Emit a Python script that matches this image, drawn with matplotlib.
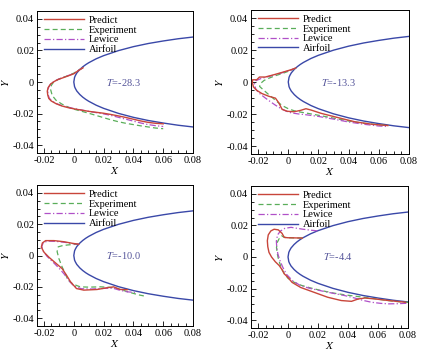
import matplotlib
matplotlib.use("Agg")
import matplotlib.pyplot as plt
from matplotlib.ticker import MultipleLocator, FuncFormatter

plt.rcParams['font.family'] = ['Liberation Serif', 'DejaVu Serif']
plt.rcParams['mathtext.fontset'] = 'stix'

# ---------------- data ----------------
airfoil_x = [0.0, 0.0005, 0.001, 0.002, 0.004, 0.006, 0.008, 0.01, 0.015, 0.02,
             0.03, 0.04, 0.05, 0.06, 0.07, 0.08]
airfoil_y = [0.0, 0.0029, 0.0040, 0.0057, 0.0079, 0.0096, 0.0110, 0.0122, 0.0147,
             0.0167, 0.0199, 0.0224, 0.0244, 0.0260, 0.0274, 0.0285]

titles = ["T=-28.3", "T=-13.3", "T=-10.0", "T=-4.4"]

# Panel 1 (T=-28.3)
p1_pred_x = [0.0062, 0.003, 0.0, -0.004, -0.0075, -0.0105, -0.013, -0.0155, -0.0172, -0.0178,
             -0.0175, -0.0168, -0.0152, -0.012, -0.008, -0.004, 0.0, 0.005, 0.010, 0.015,
             0.020, 0.025, 0.030, 0.035, 0.040, 0.045, 0.050, 0.055, 0.060]
p1_pred_y = [0.0090, 0.0072, 0.0052, 0.0038, 0.0026, 0.0016, 0.0004, -0.0012, -0.0035, -0.0058,
             -0.0082, -0.0104, -0.0120, -0.0137, -0.0152, -0.0162, -0.0170, -0.0178, -0.0186, -0.0192,
             -0.0198, -0.0206, -0.0215, -0.0225, -0.0236, -0.0247, -0.0256, -0.0262, -0.0265]
p1_exp_x = [0.006, 0.003, 0.0, -0.004, -0.008, -0.011, -0.0135, -0.015, -0.0155, -0.0145,
            -0.012, -0.008, -0.004, 0.0, 0.005, 0.010, 0.015, 0.020, 0.025, 0.030,
            0.035, 0.040, 0.045, 0.050, 0.055, 0.060]
p1_exp_y = [0.0090, 0.0074, 0.0056, 0.0040, 0.0026, 0.0014, 0.0000, -0.0020, -0.0050, -0.0085,
            -0.0115, -0.0140, -0.0158, -0.0172, -0.0185, -0.0198, -0.0212, -0.0226, -0.0240, -0.0252,
            -0.0262, -0.0270, -0.0278, -0.0285, -0.0292, -0.0296]
p1_lew_x = [0.006, 0.003, 0.0, -0.004, -0.0075, -0.0105, -0.013, -0.0155, -0.017, -0.0175,
            -0.0172, -0.0165, -0.015, -0.012, -0.008, -0.004, 0.0, 0.005, 0.010, 0.015,
            0.020, 0.025, 0.030, 0.035, 0.040, 0.045, 0.050, 0.055, 0.060]
p1_lew_y = [0.0090, 0.0073, 0.0054, 0.0040, 0.0028, 0.0017, 0.0005, -0.0012, -0.0035, -0.0058,
            -0.0080, -0.0102, -0.0118, -0.0136, -0.0150, -0.0160, -0.0168, -0.0177, -0.0186, -0.0194,
            -0.0202, -0.0212, -0.0224, -0.0236, -0.0248, -0.0260, -0.0270, -0.0277, -0.0282]

# Panel 2 (T=-13.3)
p2_pred_x = [0.0049, 0.0016, -0.0041, -0.0097, -0.0153, -0.0191, -0.0209, -0.0236, -0.0238, -0.0231,
             -0.0209, -0.0175, -0.0130, -0.0085, -0.0063, -0.0041, -0.0006, 0.0038, 0.0083, 0.0117,
             0.0150, 0.0218, 0.0331, 0.0443, 0.0555, 0.066]
p2_pred_y = [0.0087, 0.0076, 0.0060, 0.0045, 0.0031, 0.0031, 0.0014, 0.0014, -0.0002, -0.0031,
             -0.0052, -0.0072, -0.0089, -0.0101, -0.0130, -0.0171, -0.0183, -0.0186, -0.0177, -0.0167,
             -0.0175, -0.0196, -0.0223, -0.0249, -0.0264, -0.0272]
p2_exp_x = [0.0049, 0.001, -0.004, -0.009, -0.0125, -0.016, -0.0185, -0.0190, -0.0170, -0.0140,
            -0.0105, -0.0070, -0.0035, 0.0000, 0.0040, 0.0080, 0.0130, 0.0200, 0.0300, 0.0400,
            0.0500, 0.0600, 0.0660]
p2_exp_y = [0.0087, 0.0070, 0.0053, 0.0038, 0.0025, 0.0010, -0.0010, -0.0028, -0.0045, -0.0070,
            -0.0098, -0.0126, -0.0150, -0.0167, -0.0180, -0.0188, -0.0196, -0.0208, -0.0226, -0.0244,
            -0.0258, -0.0268, -0.0272]
p2_lew_x = [0.0049, 0.001, -0.004, -0.009, -0.014, -0.018, -0.0215, -0.0225, -0.0215, -0.0190,
            -0.0155, -0.0120, -0.0085, -0.0050, -0.0015, 0.0020, 0.0070, 0.0120, 0.0200, 0.0300,
            0.0400, 0.0500, 0.0600, 0.0660]
p2_lew_y = [0.0087, 0.0072, 0.0058, 0.0044, 0.0032, 0.0022, 0.0008, -0.0015, -0.0045, -0.0072,
            -0.0098, -0.0122, -0.0145, -0.0165, -0.0182, -0.0193, -0.0200, -0.0205, -0.0215, -0.0232,
            -0.0250, -0.0264, -0.0275, -0.0278]

# Panel 3 (T=-10.0)
p3_pred_x = [0.0033, -0.0011, -0.0067, -0.0133, -0.0189, -0.0211, -0.0218, -0.0200, -0.0167, -0.0122,
             -0.0078, -0.0049, -0.0022, 0.0018, 0.0067, 0.0156, 0.0222, 0.0267, 0.0311, 0.0360]
p3_pred_y = [0.0072, 0.0078, 0.0088, 0.0095, 0.0095, 0.0080, 0.0053, 0.0021, -0.0011, -0.0048,
             -0.0084, -0.0126, -0.0168, -0.0211, -0.0221, -0.0217, -0.0206, -0.0200, -0.0217, -0.0218]
p3_exp_x = [0.0033, -0.0010, -0.0044, -0.0080, -0.0105, -0.0112, -0.0100, -0.0078, -0.0060, -0.0044,
            -0.0025, -0.0011, 0.0020, 0.0044, 0.0100, 0.0178, 0.0240, 0.0289, 0.0340, 0.0400,
            0.0444, 0.0470]
p3_exp_y = [0.0072, 0.0070, 0.0067, 0.0062, 0.0055, 0.0025, -0.0020, -0.0074, -0.0110, -0.0147,
            -0.0168, -0.0179, -0.0192, -0.0200, -0.0202, -0.0200, -0.0203, -0.0210, -0.0225, -0.0242,
            -0.0253, -0.0258]
p3_lew_x = [0.0033, -0.0010, -0.0060, -0.0120, -0.0175, -0.0205, -0.0215, -0.0205, -0.0180, -0.0140,
            -0.0100, -0.0065, -0.0035, 0.0000, 0.0050, 0.0120, 0.0200, 0.0260, 0.0310, 0.0360,
            0.0410]
p3_lew_y = [0.0072, 0.0076, 0.0084, 0.0090, 0.0092, 0.0082, 0.0058, 0.0028, -0.0005, -0.0042,
            -0.0080, -0.0118, -0.0158, -0.0195, -0.0212, -0.0214, -0.0210, -0.0208, -0.0222, -0.0232,
            -0.0236]

# Panel 4 (T=-4.4)
p4_pred_x = [0.0095, 0.005, 0.000, -0.0025, -0.004, -0.0065, -0.0093, -0.0115, -0.0132, -0.0138,
             -0.0135, -0.0127, -0.0110, -0.0085, -0.0059, -0.0040, -0.0025, -0.0005, 0.0027, 0.0084,
             0.0174, 0.0264, 0.0355, 0.0423, 0.0468, 0.0513, 0.0581, 0.0671, 0.0784]
p4_pred_y = [0.0120, 0.0121, 0.0122, 0.0124, 0.0150, 0.0172, 0.0176, 0.0165, 0.0140, 0.0103,
             0.0065, 0.0029, 0.0000, -0.0030, -0.0054, -0.0080, -0.0107, -0.0125, -0.0161, -0.0193,
             -0.0224, -0.0255, -0.0276, -0.0281, -0.0266, -0.0260, -0.0266, -0.0276, -0.0287]
p4_exp_x = [0.0095, 0.005, 0.000, -0.0025, -0.0043, -0.0060, -0.0072, -0.0077, -0.0073, -0.0066,
            -0.0055, -0.0043, -0.0025, 0.0000, 0.0040, 0.0090, 0.0150, 0.0219, 0.0300, 0.0380,
            0.0445, 0.0500, 0.0560, 0.0620, 0.0700, 0.0800]
p4_exp_y = [0.0120, 0.0121, 0.0122, 0.0125, 0.0134, 0.0115, 0.0092, 0.0060, 0.0029, -0.0005,
            -0.0040, -0.0075, -0.0105, -0.0135, -0.0160, -0.0180, -0.0196, -0.0212, -0.0228, -0.0240,
            -0.0248, -0.0255, -0.0262, -0.0270, -0.0280, -0.0288]
p4_lew_x = [0.0195, 0.0150, 0.0100, 0.0060, 0.0020, -0.0020, -0.0050, -0.0070, -0.0078, -0.0075,
            -0.0068, -0.0055, -0.0035, -0.0010, 0.0030, 0.0084, 0.0150, 0.0219, 0.0300, 0.0380,
            0.0445, 0.0500, 0.0558, 0.0620, 0.0671, 0.0730, 0.0800]
p4_lew_y = [0.0166, 0.0170, 0.0176, 0.0182, 0.0188, 0.0182, 0.0165, 0.0140, 0.0100, 0.0060,
            0.0020, -0.0020, -0.0065, -0.0110, -0.0150, -0.0182, -0.0200, -0.0214, -0.0230, -0.0245,
            -0.0260, -0.0275, -0.0287, -0.0294, -0.0297, -0.0296, -0.0293]

panels = [
    (p1_pred_x, p1_pred_y, p1_exp_x, p1_exp_y, p1_lew_x, p1_lew_y),
    (p2_pred_x, p2_pred_y, p2_exp_x, p2_exp_y, p2_lew_x, p2_lew_y),
    (p3_pred_x, p3_pred_y, p3_exp_x, p3_exp_y, p3_lew_x, p3_lew_y),
    (p4_pred_x, p4_pred_y, p4_exp_x, p4_exp_y, p4_lew_x, p4_lew_y),
]

xticks = [-0.02, 0, 0.02, 0.04, 0.06, 0.08]
yticks = [-0.04, -0.02, 0, 0.02, 0.04]

# ---------------- style ----------------
c_pred = "#c8453a"
c_exp = "#5aae5a"
c_lew = "#b050c8"
c_air = "#3a48a8"
c_txt = "#55559a"

W, H = 445, 354
fig = plt.figure(figsize=(W / 100, H / 100), dpi=100)
fig.patch.set_facecolor("white")

boxes = [(37, 11, 156, 142), (251, 10, 158, 144), (37, 185, 156, 141), (251, 186, 157, 142)]

def fmt(v, pos):
    if abs(v) < 1e-12:
        return "0"
    return f"{v:.2f}"

air_neg = [-v for v in airfoil_y]
air_x_full = airfoil_x[::-1] + airfoil_x[1:]
air_y_full = airfoil_y[::-1] + air_neg[1:]

for i, (bx, by, bw, bh) in enumerate(boxes):
    ax = fig.add_axes([bx / W, 1 - (by + bh) / H, bw / W, bh / H])
    px, py, ex, ey, lx, ly = panels[i]
    ax.plot(px, py, color=c_pred, lw=1.0, label="Predict", zorder=4)
    ax.plot(ex, ey, color=c_exp, lw=0.9, ls=(0, (4, 2.5)), label="Experiment", zorder=3)
    ax.plot(lx, ly, color=c_lew, lw=0.9, ls=(0, (5, 1.8, 1, 1.8)), label="Lewice", zorder=3)
    ax.plot(air_x_full, air_y_full, color=c_air, lw=1.0, label="Airfoil", zorder=2)
    ax.set_xlim(-0.0247, 0.08)
    ax.set_ylim(-0.045, 0.045)
    ax.set_xticks(xticks)
    ax.set_yticks(yticks)
    ax.xaxis.set_minor_locator(MultipleLocator(0.005))
    ax.yaxis.set_minor_locator(MultipleLocator(0.005))
    ax.xaxis.set_major_formatter(FuncFormatter(fmt))
    ax.yaxis.set_major_formatter(FuncFormatter(fmt))
    ax.tick_params(which="both", direction="in", labelsize=7.5, width=0.6, pad=2)
    ax.tick_params(which="major", length=3.5)
    ax.tick_params(which="minor", length=2)
    for s in ax.spines.values():
        s.set_linewidth(0.7)
    ax.set_xlabel("$X$", fontsize=8, labelpad=0)
    ax.set_ylabel("$Y$", fontsize=8, labelpad=1)
    ax.text(0.033, 0.0, titles[i].replace("T", "$T$"), color=c_txt, fontsize=7.5,
            ha="center", va="center")
    ax.legend(loc="upper left", bbox_to_anchor=(0.0, 1.02), frameon=False, fontsize=7.5,
              handlelength=3.8, handletextpad=0.5, labelspacing=0.05, borderaxespad=0.3)

fig.savefig("out.png", dpi=100, facecolor="white")
